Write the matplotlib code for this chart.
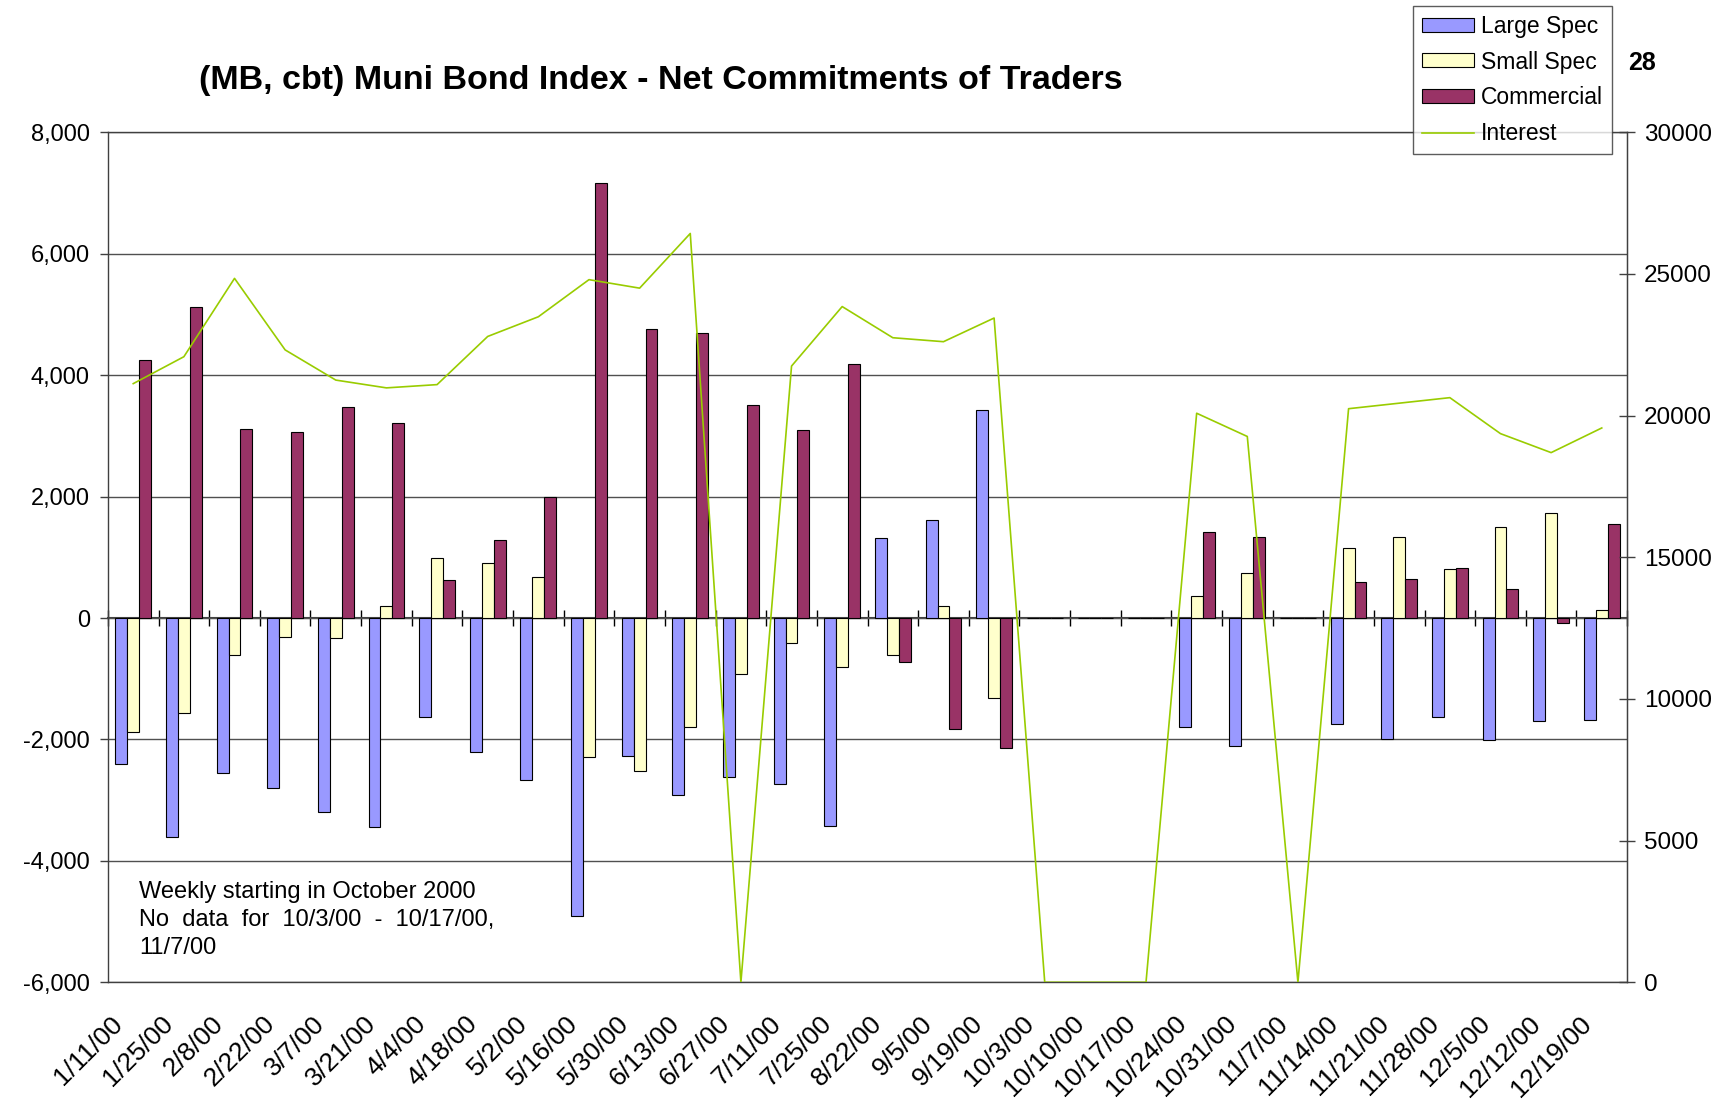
import numpy as np
import matplotlib
matplotlib.use("Agg")
import matplotlib.pyplot as plt
from matplotlib.ticker import FuncFormatter
from matplotlib.patches import Patch
from matplotlib.lines import Line2D
from matplotlib.transforms import ScaledTranslation

plt.rcParams['font.family'] = ['Liberation Sans', 'DejaVu Sans']

categories = ['1/11/00', '1/25/00', '2/8/00', '2/22/00', '3/7/00', '3/21/00', '4/4/00',
              '4/18/00', '5/2/00', '5/16/00', '5/30/00', '6/13/00', '6/27/00', '7/11/00',
              '7/25/00', '8/22/00', '9/5/00', '9/19/00', '10/3/00', '10/10/00', '10/17/00',
              '10/24/00', '10/31/00', '11/7/00', '11/14/00', '11/21/00', '11/28/00',
              '12/5/00', '12/12/00', '12/19/00']

large_spec = [-2400, -3600, -2550, -2800, -3190, -3445, -1630, -2200, -2665, -4905,
              -2265, -2920, -2615, -2730, -3430, 1320, 1620, 3425, 0, 0,
              0, -1800, -2100, 0, -1745, -1985, -1635, -2010, -1690, -1685]

small_spec = [-1875, -1570, -605, -315, -325, 205, 995, 905, 675, -2285,
              -2515, -1800, -930, -405, -800, -615, 190, -1310, 0, 0,
              0, 360, 745, 0, 1150, 1335, 812, 1502, 1737, 130]

commercial = [4250, 5130, 3120, 3065, 3475, 3210, 630, 1285, 1990, 7160,
              4755, 4690, 3505, 3095, 4185, -730, -1820, -2135, 0, 0,
              0, 1420, 1335, 0, 588, 637, 817, 484, -77, 1550]

interest = [21130, 22080, 24845, 22320, 21255, 20980, 21095, 22795, 23490, 24800,
            24500, 26430, 0, 21750, 23850, 22750, 22610, 23445, 0, 0,
            0, 20085, 19265, 0, 20245, 20440, 20635, 19365, 18695, 19565]

left_ticks = [-6000, -4000, -2000, 0, 2000, 4000, 6000, 8000]
right_ticks = [0, 5000, 10000, 15000, 20000, 25000, 30000]

title = "(MB, cbt) Muni Bond Index - Net Commitments of Traders"
note = "Weekly starting in October 2000\nNo  data  for  10/3/00  -  10/17/00,\n11/7/00"

c_large = '#9999FF'
c_small = '#FFFFCC'
c_comm = '#993366'
c_int = '#99CC00'
axis_col = '#404040'
fs = 17

fig = plt.figure(figsize=(17.35, 10.99), dpi=100)
ax = fig.add_axes([0.0622, 0.1062, 0.9378 - 0.0622, 0.8796 - 0.1062])

x = np.arange(len(categories))
w = 0.235
ax.bar(x - w, large_spec, w, color=c_large, edgecolor='black', linewidth=0.8, zorder=3)
ax.bar(x, small_spec, w, color=c_small, edgecolor='black', linewidth=0.8, zorder=3)
ax.bar(x + w, commercial, w, color=c_comm, edgecolor='black', linewidth=0.8, zorder=3)

ax.set_xlim(-0.5, len(categories) - 0.5)
ax.set_ylim(-6000, 8000)
ax.set_yticks(left_ticks)
ax.yaxis.set_major_formatter(FuncFormatter(lambda v, p: f"{v:,.0f}"))
ax.grid(axis='y', color='#505050', linewidth=1.0, zorder=0)
ax.set_axisbelow(True)
ax.tick_params(axis='y', direction='out', length=6, width=1, color=axis_col,
               labelsize=fs, pad=7)

ax.set_xticks(x)
ax.set_xticklabels(categories, rotation=45, ha='right', va='top', fontsize=19)
ax.tick_params(axis='x', length=0, pad=21)
offset = ScaledTranslation(-6 / 100, 0, fig.dpi_scale_trans)
for lbl in ax.get_xticklabels():
    lbl.set_transform(lbl.get_transform() + offset)

for s in ['left', 'bottom', 'top', 'right']:
    ax.spines[s].set_color(axis_col)
    ax.spines[s].set_linewidth(1.0)

# zero-line category axis with boundary ticks
ymin, ymax = ax.get_ylim()
zero_frac = (0 - ymin) / (ymax - ymin)
sec = ax.secondary_xaxis(zero_frac)
sec.set_xticks(np.arange(len(categories) + 1) - 0.5)
sec.tick_params(axis='x', direction='inout', length=11, width=1, color='black',
                labelbottom=False, labeltop=False)
for s in ['bottom', 'top']:
    sec.spines[s].set_color(axis_col)
    sec.spines[s].set_linewidth(1.5)

# secondary y axis: open interest
ax2 = ax.twinx()
ax2.plot(x, interest, color=c_int, linewidth=1.2, zorder=4)
ax2.set_ylim(0, 30000)
ax2.set_yticks(right_ticks)
ax2.yaxis.set_major_formatter(FuncFormatter(lambda v, p: f"{v:.0f}"))
ax2.tick_params(axis='y', direction='inout', length=12, width=1, color=axis_col,
                labelsize=fs + 0.5, pad=6)
for s in ['left', 'bottom', 'top']:
    ax2.spines[s].set_visible(False)
ax2.spines['right'].set_color(axis_col)

# note text
ax.text(0.0205, 0.0733, note, transform=ax.transAxes, fontsize=17,
        ha='left', va='center', linespacing=1.35)

# title and number
fig.text(0.381, 0.927, title, fontsize=24.5, fontweight='bold', ha='center', va='center')
fig.text(1628 / 1735, 1 - 63 / 1099, "28", fontsize=18, fontweight='bold',
         ha='left', va='center')

handles = [Patch(facecolor=c_large, edgecolor='black', linewidth=0.8),
           Patch(facecolor=c_small, edgecolor='black', linewidth=0.8),
           Patch(facecolor=c_comm, edgecolor='black', linewidth=0.8),
           Line2D([0], [0], color=c_int, linewidth=1.2)]
labels = ['Large Spec', 'Small Spec', 'Commercial', 'Interest']
leg = ax2.legend(handles, labels, loc='upper left',
                 bbox_to_anchor=(1413 / 1735, 1 - 6 / 1099),
                 bbox_transform=fig.transFigure, borderaxespad=0, fontsize=16.5,
                 frameon=True, fancybox=False, edgecolor='#333333',
                 handlelength=2.3, handleheight=0.57, handletextpad=0.3,
                 labelspacing=0.56, borderpad=0.38)
leg.get_frame().set_linewidth(1.0)
leg.set_zorder(10)

fig.savefig('out.png', dpi=100, facecolor='white')
